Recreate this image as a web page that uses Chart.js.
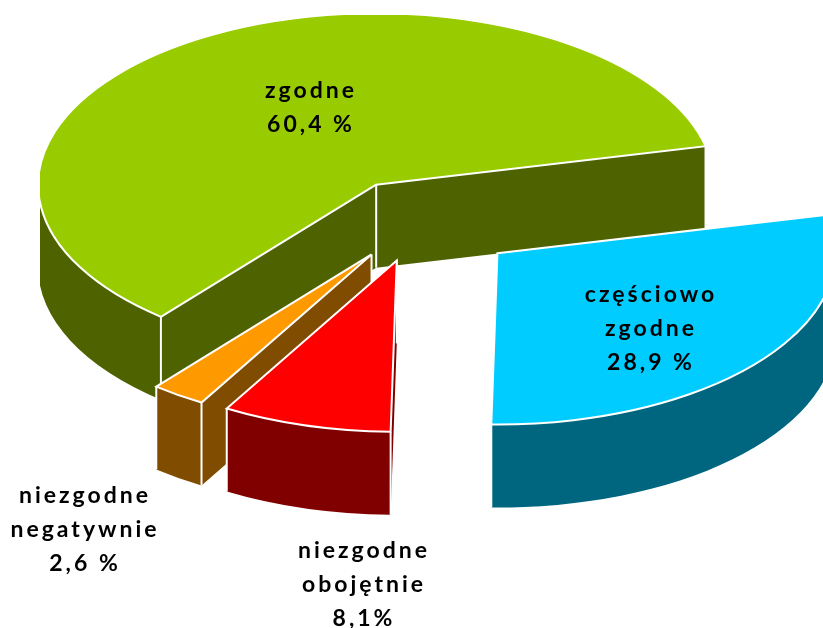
<!DOCTYPE html>
<html lang="pl">
<head>
<meta charset="utf-8">
<style>html,body{margin:0;padding:0;background:#fff}canvas{display:block}</style>
<script src="https://cdn.jsdelivr.net/npm/chart.js@4"></script>
</head>
<body>
<canvas id="c" width="823" height="628"></canvas>
<script>
// Data, clockwise from the pie's start angle
const categories = ['częściowo zgodne', 'niezgodne obojętnie', 'niezgodne negatywnie', 'zgodne'];
const values = [28.9, 8.1, 2.6, 60.4];
const topColors = ['#00CCFF', '#FF0000', '#FF9900', '#99CC00'];
const sideColors = ['#006680', '#800000', '#804D00', '#4F6200'];
const labelLines = [
  ['częściowo', 'zgodne', '28,9 %'],
  ['niezgodne', 'obojętnie', '8,1%'],
  ['niezgodne', 'negatywnie', '2,6 %'],
  ['zgodne', '60,4 %']
];

// Layout
const labelX = [651, 364, 85, 311];
const labelY = [302, 558, 503, 98];
const lineGap = 34;
const drawOrder = [3, 2, 1, 0];
const pieCenter = {x: 424, y: 223};
const radius = 338, tilt = 0.507, explode = 90, depth = 83;
const nudgeX = [3.5, -3, -1, -0.5];
const nudgeY = [1.5, -6.5, -6, 0.5];

const pie3d = {
  id: 'pie3d',
  beforeDatasetsDraw(chart) {
    const ctx = chart.ctx;
    const arcs = chart.getDatasetMeta(0).data;
    ctx.save();
    ctx.beginPath();
    ctx.rect(40, 15, chart.width - 40, chart.height - 15);
    ctx.clip();

    drawOrder.forEach(i => {
      const arc = arcs[i];
      const base = arc.options;
      const mid = (arc.startAngle + arc.endAngle) / 2;
      const ox = pieCenter.x + nudgeX[i] + Math.cos(mid) * explode;
      const oy = pieCenter.y + nudgeY[i] + Math.sin(mid) * explode * tilt;
      const place = dy => {
        ctx.translate(ox, oy + dy);
        ctx.scale(1, tilt);
        ctx.translate(-arc.x, -arc.y);
      };
      const pt = (angle, r) => ({
        x: ox + Math.cos(angle) * r,
        y: oy + Math.sin(angle) * r * tilt
      });
      const apex = pt(0, 0);
      const ends = [pt(arc.startAngle, arc.outerRadius), pt(arc.endAngle, arc.outerRadius)];

      // side walls: outer rim strip, only where the rim faces the viewer
      ctx.fillStyle = sideColors[i];
      for (let k = -1; k <= 2; k++) {
        const a = Math.max(arc.startAngle, 2 * Math.PI * k);
        const b = Math.min(arc.endAngle, 2 * Math.PI * k + Math.PI);
        if (a >= b) continue;
        ctx.beginPath();
        ctx.save(); place(0);
        ctx.arc(arc.x, arc.y, arc.outerRadius, a, b);
        ctx.restore();
        ctx.save(); place(depth);
        ctx.arc(arc.x, arc.y, arc.outerRadius, b, a, true);
        ctx.restore();
        ctx.closePath();
        ctx.fill();
      }
      // side walls: the two cut faces
      ends.forEach(p => {
        ctx.beginPath();
        ctx.moveTo(apex.x, apex.y);
        ctx.lineTo(p.x, p.y);
        ctx.lineTo(p.x, p.y + depth);
        ctx.lineTo(apex.x, apex.y + depth);
        ctx.closePath();
        ctx.fill();
      });
      // vertical seams at the slice corners
      ctx.strokeStyle = '#fff';
      ctx.lineWidth = 2;
      [apex, ends[0], ends[1]].forEach(p => {
        ctx.beginPath();
        ctx.moveTo(p.x, p.y);
        ctx.lineTo(p.x, p.y + depth);
        ctx.stroke();
      });
      // top face, drawn by the library's arc element
      arc.options = Object.assign({}, base, {backgroundColor: topColors[i], borderWidth: 0});
      ctx.save();
      place(0);
      arc.draw(ctx);
      ctx.restore();
      arc.options = base;
      // white outline of the top face
      ctx.beginPath();
      ctx.save(); place(0);
      ctx.moveTo(arc.x, arc.y);
      ctx.arc(arc.x, arc.y, arc.outerRadius, arc.startAngle, arc.endAngle);
      ctx.closePath();
      ctx.restore();
      ctx.strokeStyle = '#fff';
      ctx.lineWidth = 2;
      ctx.lineJoin = 'miter';
      ctx.stroke();
    });
    ctx.restore();

    // labels
    ctx.save();
    ctx.fillStyle = '#000';
    ctx.font = 'bold 23px Lato, sans-serif';
    ctx.letterSpacing = '3px';
    ctx.textAlign = 'center';
    ctx.textBaseline = 'alphabetic';
    labelLines.forEach((lines, i) => {
      lines.forEach((t, j) => ctx.fillText(t, labelX[i], labelY[i] + j * lineGap));
    });
    ctx.restore();
    return false;
  }
};

new Chart(document.getElementById('c'), {
  type: 'pie',
  data: {
    labels: categories,
    datasets: [{data: values, backgroundColor: topColors, borderWidth: 0}]
  },
  options: {
    responsive: false,
    animation: false,
    rotation: 77,
    radius: radius,
    layout: {padding: 0},
    events: [],
    plugins: {legend: {display: false}, tooltip: {enabled: false}}
  },
  plugins: [pie3d]
});
</script>
</body>
</html>
